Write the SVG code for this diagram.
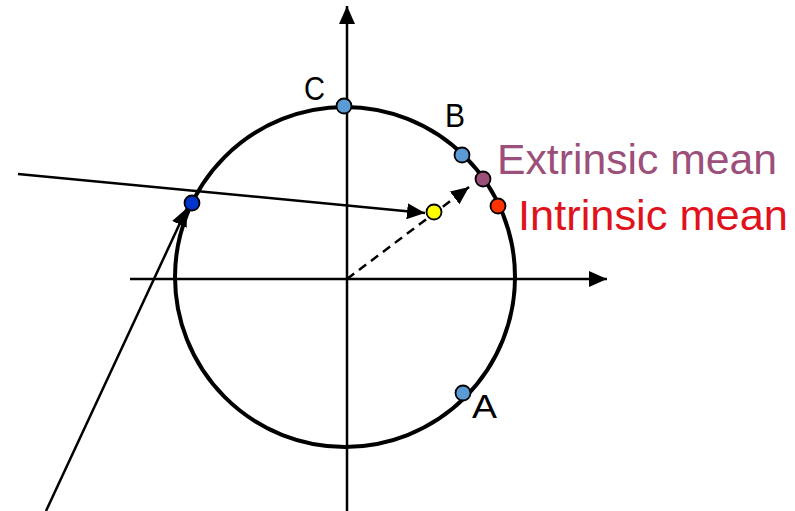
<svg xmlns="http://www.w3.org/2000/svg" width="795" height="511" viewBox="0 0 795 511">
<style>
.ax{stroke:#000;stroke-width:2.5;fill:none}
.ln{stroke:#000;stroke-width:2.5;fill:none}
.pt{stroke:#000;stroke-width:1.8}
.lbl{font-family:"Liberation Sans",Arial,sans-serif;font-size:34px;fill:#000}
.big{font-family:"Liberation Sans",Arial,sans-serif;font-size:43px}
</style>
<defs>
<marker id="ah" viewBox="0 0 18 16" refX="18" refY="8" markerWidth="18" markerHeight="16" markerUnits="userSpaceOnUse" orient="auto">
<path d="M0,0 L18,8 L0,16 Z" fill="#000"/>
</marker>
</defs>
<rect width="795" height="511" fill="#fff"/>
<g id="connectors">
<line class="ax" x1="130" y1="279" x2="607" y2="279" marker-end="url(#ah)"/>
<line class="ax" x1="347" y1="511" x2="347" y2="6" marker-end="url(#ah)"/>
<line class="ln" x1="18" y1="174" x2="425" y2="213" marker-end="url(#ah)"/>
<line class="ln" x1="46" y1="511" x2="187" y2="208" marker-end="url(#ah)"/>
<line class="ln" x1="347" y1="279" x2="469" y2="187" stroke-dasharray="9,6" marker-end="url(#ah)"/>
</g>
<g id="circle">
<circle cx="345" cy="277" r="170" fill="none" stroke="#000" stroke-width="4"/>
</g>
<g id="C"><circle class="pt" cx="344" cy="106" r="7.5" fill="#5B9BD5"/><text class="lbl" x="304" y="100" textLength="21" lengthAdjust="spacingAndGlyphs">C</text></g>
<g id="B"><circle class="pt" cx="462" cy="155" r="7.5" fill="#5B9BD5"/><text class="lbl" x="445" y="127" textLength="20" lengthAdjust="spacingAndGlyphs">B</text></g>
<g id="A"><circle class="pt" cx="463" cy="393" r="7.5" fill="#5B9BD5"/><text class="lbl" x="472" y="418" textLength="25" lengthAdjust="spacingAndGlyphs">A</text></g>
<g id="extrinsic"><circle class="pt" cx="483" cy="179" r="7.5" fill="#9B4F7A"/><text class="big" x="497" y="174" fill="#9B4F7A" textLength="280" lengthAdjust="spacingAndGlyphs">Extrinsic mean</text></g>
<g id="intrinsic"><circle class="pt" cx="498" cy="206" r="7.5" fill="#FF3300"/><text class="big" x="518" y="230" fill="#E0121C" textLength="270" lengthAdjust="spacingAndGlyphs">Intrinsic mean</text></g>
<g id="yellow"><circle class="pt" cx="434" cy="212" r="7.5" fill="#FFFF00"/></g>
<g id="blue"><circle class="pt" cx="192" cy="203" r="7.5" fill="#0033CC"/></g>
</svg>
